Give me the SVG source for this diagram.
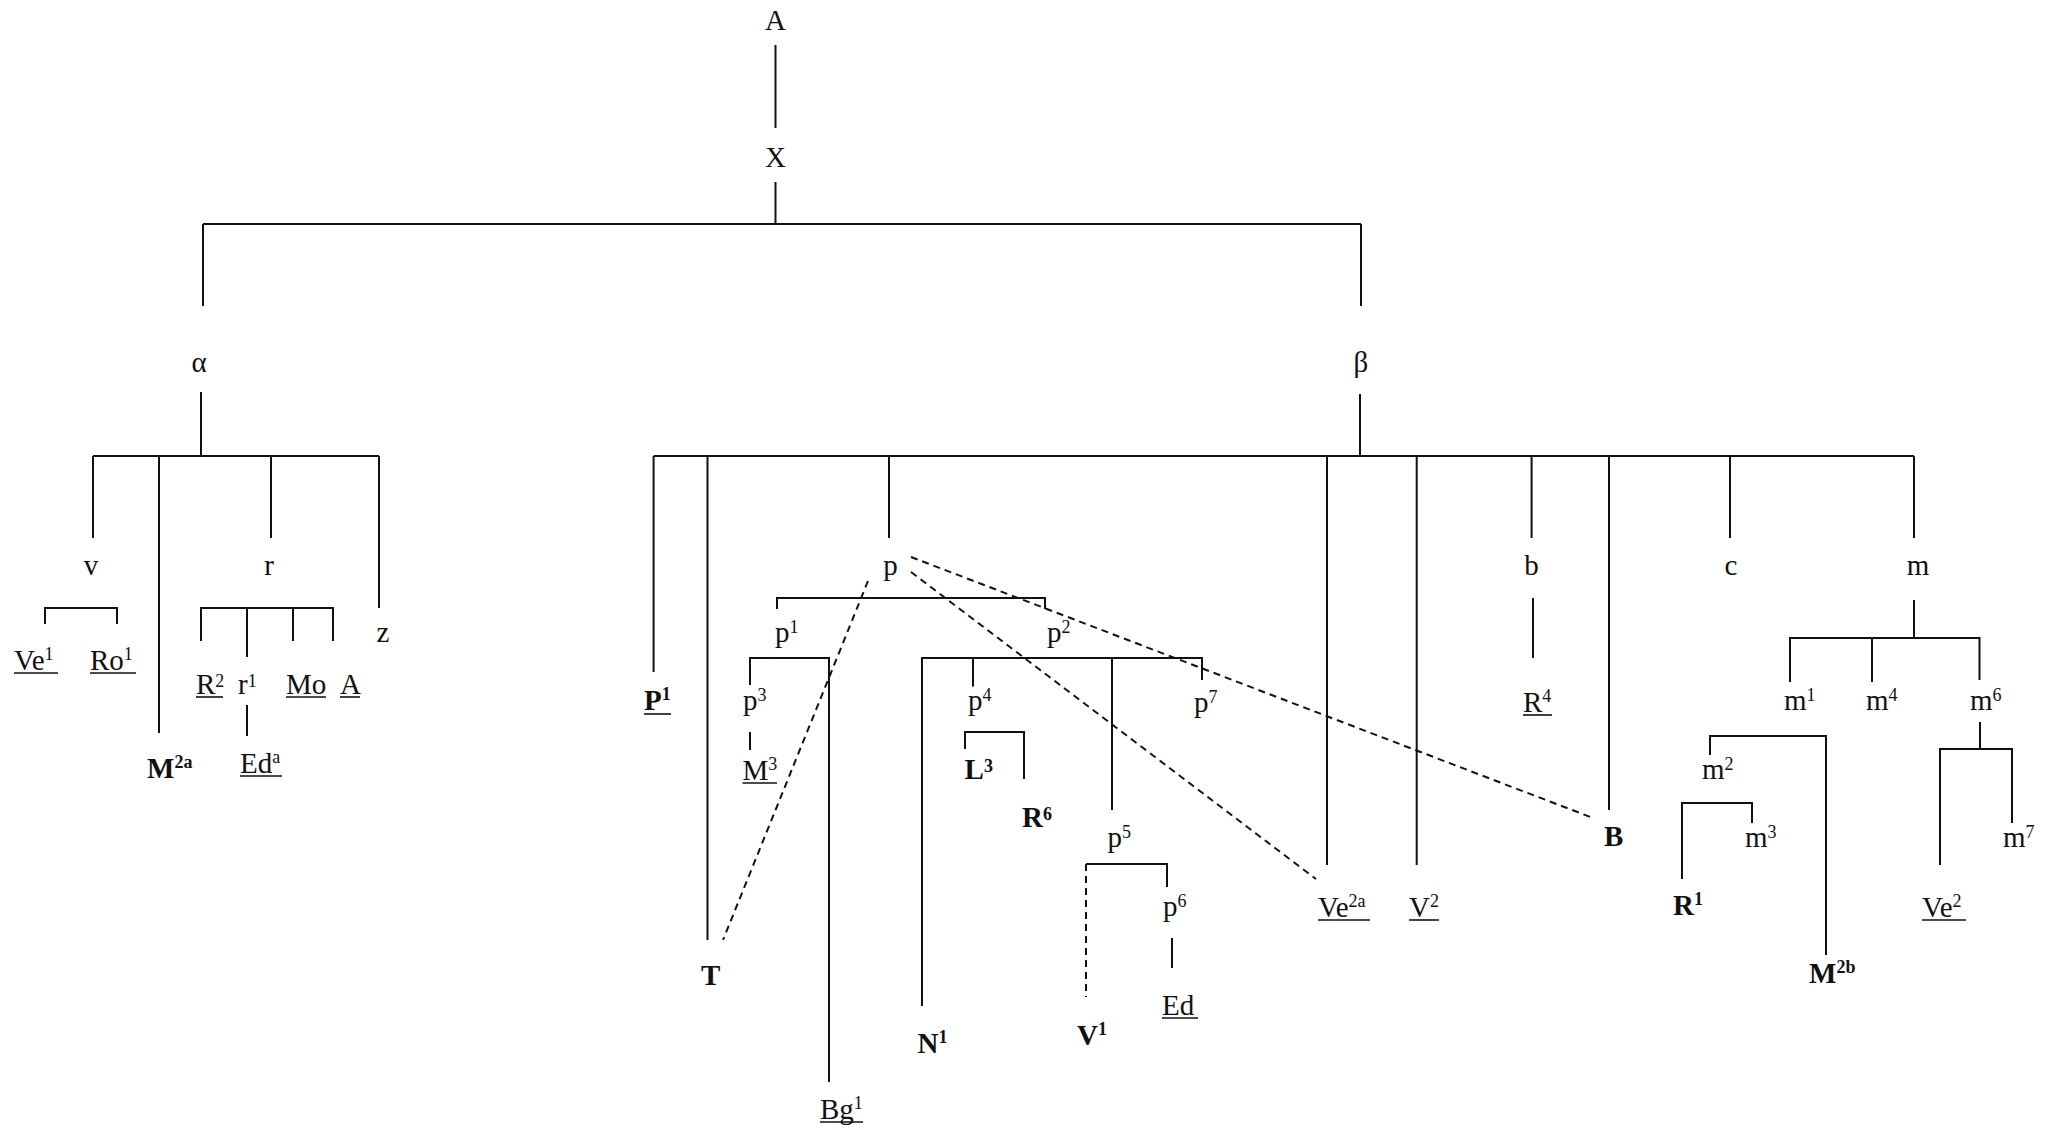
<svg xmlns="http://www.w3.org/2000/svg" width="2049" height="1130" viewBox="0 0 2049 1130">
<style>
.t{font-family:"Liberation Serif","Times New Roman",serif;font-size:29px;fill:#111}
.c{text-anchor:middle}
.b{font-weight:bold}
.sup{font-size:18px}
.ln{stroke:#111;stroke-width:2;fill:none}
.dash{stroke:#111;stroke-width:2;fill:none;stroke-dasharray:7 5}
.ul{stroke:#111;stroke-width:1.6}
</style>
<rect width="2049" height="1130" fill="#fff"/>
<g id="connectors">
<path class="ln" d="M775.5 45V128M775.5 182V224M203 224H1361M203 224V306M1361 224V306M201 392V456"/>
<path class="ln" d="M93 456H379M93 456V538M159 456V733M271 456V538M379 456V608"/>
<path class="ln" d="M45 624V608H117V624M201 641V608H333V641M247 608V657M293 608V641M247 705V736"/>
<path class="ln" d="M1360 394V456M653.6 456H1914M653.6 456V672M707.5 456V940M889 456V538M1327 456V865M1416.7 456V865M1531.6 456V538M1609 456V810M1730 456V538M1914 456V538M1533 598V658"/>
<path class="ln" d="M777 609V598H1045V609M750 685V658H829V1082M750 732V750"/>
<path class="ln" d="M922 1006V658H1202V680M973 658V686.5M1112 658V810M965 749V732H1024V779M1086 864H1167V887M1172 938V968"/>
<path class="dash" d="M1086 864V997"/>
<path class="ln" d="M1914 600V638M1790 682V638H1979.5V680M1872 638V682M1710 755V736H1826V955M1682 879V803H1752V823M1980 722V749M1940 865V749H2012V823"/>
<path class="dash" d="M911 557L1593 818M911 572L1316 879M868 581L723 940"/>
</g>
<g id="n-A"><text class="t c" x="775.5" y="30">A</text></g>
<g id="n-X"><text class="t c" x="775.5" y="167">X</text></g>
<g id="n-alpha"><text class="t c" x="199" y="372">α</text></g>
<g id="n-beta"><text class="t c" x="1361" y="372">β</text></g>
<g id="n-v"><text class="t c" x="91" y="575">v</text></g>
<g id="n-r"><text class="t c" x="269" y="575">r</text></g>
<g id="n-z"><text class="t c" x="383" y="642">z</text></g>
<g id="n-Ve1"><text class="t" x="14" y="670">Ve<tspan class="sup" dy="-10">1</tspan></text><line class="ul" x1="14" y1="673" x2="58" y2="673"/></g>
<g id="n-Ro1"><text class="t" x="90" y="670">Ro<tspan class="sup" dy="-10">1</tspan></text><line class="ul" x1="90" y1="673" x2="136" y2="673"/></g>
<g id="n-M2a"><text class="t b" x="147" y="778">M<tspan class="sup" dy="-10">2a</tspan></text></g>
<g id="n-R2"><text class="t" x="196" y="694">R<tspan class="sup" dy="-7">2</tspan></text><line class="ul" x1="196" y1="697" x2="223" y2="697"/></g>
<g id="n-r1"><text class="t" x="238" y="694">r<tspan class="sup" dy="-7">1</tspan></text></g>
<g id="n-Mo"><text class="t" x="286" y="694">Mo</text><line class="ul" x1="286" y1="697" x2="326" y2="697"/></g>
<g id="n-A2"><text class="t" x="340" y="694">A</text><line class="ul" x1="340" y1="697" x2="360" y2="697"/></g>
<g id="n-Eda"><text class="t" x="240" y="773">Ed<tspan class="sup" dy="-10">a</tspan></text><line class="ul" x1="240" y1="776" x2="282" y2="776"/></g>
<g id="n-P1"><text class="t b" x="644" y="710">P<tspan class="sup" dy="-10">1</tspan></text><line class="ul" x1="644" y1="714" x2="671" y2="714"/></g>
<g id="n-T"><text class="t b" x="701" y="985">T</text></g>
<g id="n-p"><text class="t c" x="890.5" y="575">p</text></g>
<g id="n-p1"><text class="t" x="775" y="642">p<tspan class="sup" dy="-9">1</tspan></text></g>
<g id="n-p2"><text class="t" x="1047" y="642">p<tspan class="sup" dy="-9">2</tspan></text></g>
<g id="n-p3"><text class="t" x="743" y="710">p<tspan class="sup" dy="-9">3</tspan></text></g>
<g id="n-M3"><text class="t" x="742.5" y="780">M<tspan class="sup" dy="-10">3</tspan></text><line class="ul" x1="742.5" y1="783" x2="777" y2="783"/></g>
<g id="n-Bg1"><text class="t" x="820" y="1119">Bg<tspan class="sup" dy="-10">1</tspan></text><line class="ul" x1="820" y1="1122" x2="863" y2="1122"/></g>
<g id="n-N1"><text class="t b" x="917.5" y="1053">N<tspan class="sup" dy="-10">1</tspan></text></g>
<g id="n-p4"><text class="t" x="968" y="710">p<tspan class="sup" dy="-9">4</tspan></text></g>
<g id="n-L3"><text class="t b" x="964.6" y="779">L<tspan class="sup" dy="-7">3</tspan></text></g>
<g id="n-R6"><text class="t b" x="1022" y="827">R<tspan class="sup" dy="-7">6</tspan></text></g>
<g id="n-p5"><text class="t" x="1107.5" y="847">p<tspan class="sup" dy="-9">5</tspan></text></g>
<g id="n-p6"><text class="t" x="1163" y="916">p<tspan class="sup" dy="-9">6</tspan></text></g>
<g id="n-Ed"><text class="t" x="1162" y="1015">Ed</text><line class="ul" x1="1162" y1="1018" x2="1198" y2="1018"/></g>
<g id="n-V1"><text class="t b" x="1077" y="1045">V<tspan class="sup" dy="-10">1</tspan></text></g>
<g id="n-p7"><text class="t" x="1194" y="712">p<tspan class="sup" dy="-9">7</tspan></text></g>
<g id="n-Ve2a"><text class="t" x="1318" y="917">Ve<tspan class="sup" dy="-10">2a</tspan></text><line class="ul" x1="1318" y1="920" x2="1370" y2="920"/></g>
<g id="n-V2"><text class="t" x="1409" y="917">V<tspan class="sup" dy="-10">2</tspan></text><line class="ul" x1="1409" y1="920" x2="1439" y2="920"/></g>
<g id="n-b"><text class="t c" x="1531.6" y="575">b</text></g>
<g id="n-R4"><text class="t" x="1523" y="712">R<tspan class="sup" dy="-10">4</tspan></text><line class="ul" x1="1523" y1="715" x2="1552" y2="715"/></g>
<g id="n-B"><text class="t b" x="1604" y="846">B</text></g>
<g id="n-c"><text class="t c" x="1731" y="575">c</text></g>
<g id="n-m"><text class="t c" x="1918" y="575">m</text></g>
<g id="n-m1"><text class="t" x="1784" y="710">m<tspan class="sup" dy="-9">1</tspan></text></g>
<g id="n-m4"><text class="t" x="1866" y="710">m<tspan class="sup" dy="-9">4</tspan></text></g>
<g id="n-m6"><text class="t" x="1970" y="710">m<tspan class="sup" dy="-9">6</tspan></text></g>
<g id="n-m2"><text class="t" x="1702" y="779">m<tspan class="sup" dy="-9">2</tspan></text></g>
<g id="n-m3"><text class="t" x="1745" y="847">m<tspan class="sup" dy="-9">3</tspan></text></g>
<g id="n-R1"><text class="t b" x="1673" y="915">R<tspan class="sup" dy="-10">1</tspan></text></g>
<g id="n-M2b"><text class="t b" x="1809" y="983">M<tspan class="sup" dy="-10">2b</tspan></text></g>
<g id="n-Ve2"><text class="t" x="1922" y="917">Ve<tspan class="sup" dy="-10">2</tspan></text><line class="ul" x1="1922" y1="920" x2="1966" y2="920"/></g>
<g id="n-m7"><text class="t" x="2003" y="847">m<tspan class="sup" dy="-9">7</tspan></text></g>
</svg>
